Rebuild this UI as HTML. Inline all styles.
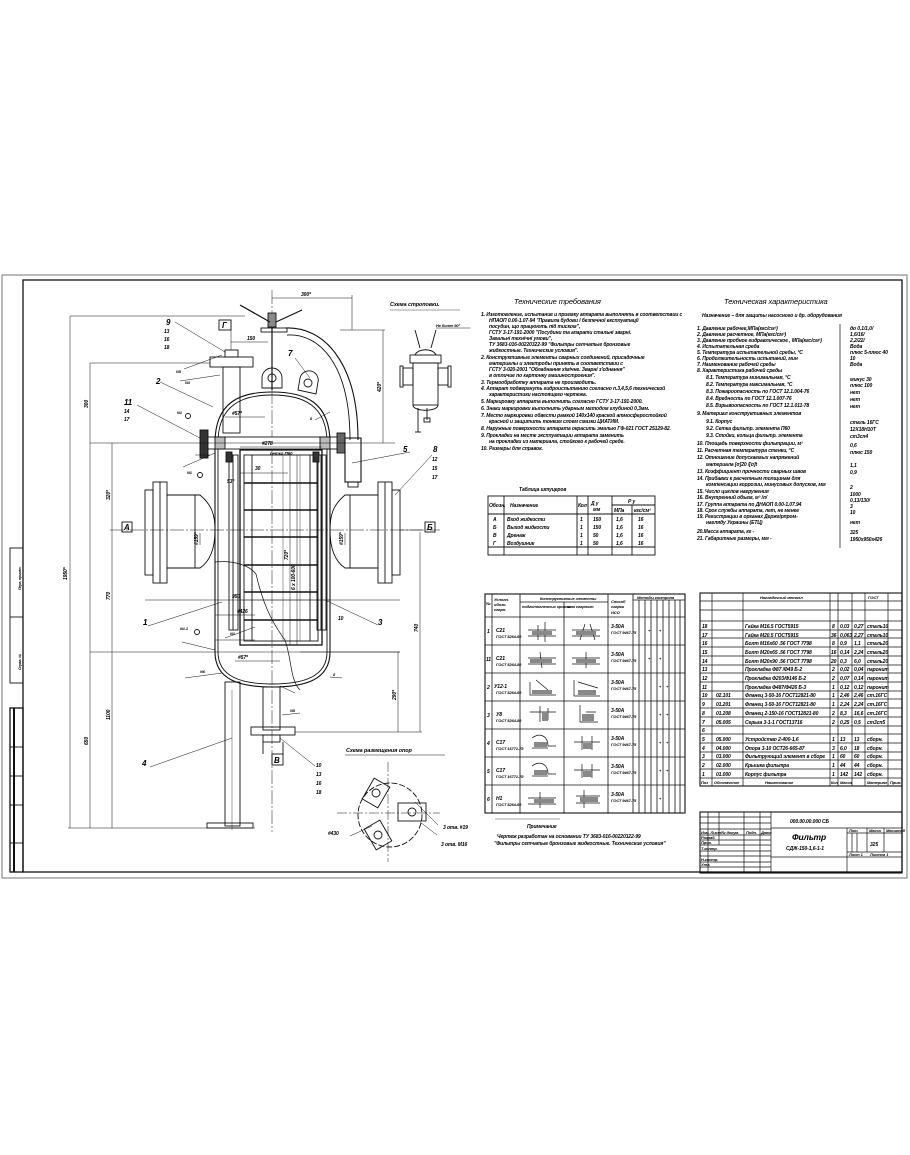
<!DOCTYPE html>
<html><head><meta charset="utf-8">
<style>
html,body{margin:0;padding:0;background:#fff;}
svg{display:block;}
text{font-family:"Liberation Sans",sans-serif;font-style:italic;fill:#000;font-weight:bold;letter-spacing:-0.1px;}
.t{font-size:5px;}
.s{font-size:4px;}
.h{font-size:7.5px;font-weight:normal;}
.n{font-size:8px;}
</style></head><body>
<svg width="910" height="1155" viewBox="0 0 910 1155" xmlns="http://www.w3.org/2000/svg">
<rect width="910" height="1155" fill="#fff"/>
<g fill="none" stroke="#111" stroke-width="0.9">
<rect x="2" y="275" width="905" height="603" stroke="#666"/>
<rect x="23" y="280" width="879" height="592" stroke-width="1.3"/>
<rect x="10" y="548" width="13" height="135"/>
<line x1="10" y1="617" x2="23" y2="617"/>
<rect x="10" y="708" width="13" height="164" stroke-width="1.3"/>
<line x1="14" y1="708" x2="14" y2="872" stroke-width="2"/>
<line x1="10" y1="747" x2="23" y2="747"/><line x1="10" y1="776" x2="23" y2="776"/>
<line x1="10" y1="805" x2="23" y2="805"/><line x1="10" y1="843" x2="23" y2="843"/>

<line x1="272" y1="290" x2="272" y2="832" stroke-dasharray="14 2 2 2" stroke-width="0.5"/>
<line x1="110" y1="530" x2="440" y2="530" stroke-dasharray="14 2 2 2" stroke-width="0.5"/>

<line x1="215" y1="443" x2="215" y2="652" stroke-width="1.1"/><line x1="218" y1="449" x2="218" y2="652"/>
<line x1="330" y1="443" x2="330" y2="652" stroke-width="1.1"/><line x1="327" y1="449" x2="327" y2="652"/>
<path d="M215,443 C215,402 240,392 272,392 C305,392 330,402 330,443" stroke-width="1.1"/>
<path d="M218,443 C218,405 242,395 272,395 C303,395 327,405 327,443"/>
<path d="M215,652 C215,680 240,687 272,687 C305,687 330,680 330,652" stroke-width="1.1"/>
<path d="M218,652 C218,677 242,684 272,684 C303,684 327,677 327,652"/>
<rect x="205" y="437" width="135" height="12" fill="#fff"/>
<rect x="215" y="437" width="10" height="12" fill="#bbb"/>
<rect x="320" y="437" width="10" height="12" fill="#bbb"/>
<rect x="200" y="430" width="8" height="28" fill="#333"/>
<rect x="337" y="433" width="8" height="20" fill="#666"/>
<line x1="90" y1="443" x2="395" y2="443" stroke-width="0.5"/>
<rect x="153" y="482" width="14" height="101"/><line x1="160" y1="482" x2="160" y2="583"/>
<rect x="145" y="490" width="8" height="85"/>
<path d="M167,495 L200,495 C212,505 215,515 215,530 C215,545 212,560 200,568 L167,568"/>
<line x1="195" y1="495" x2="195" y2="568"/>
<rect x="378" y="482" width="14" height="101"/><line x1="385" y1="482" x2="385" y2="583"/>
<rect x="392" y="490" width="8" height="85"/>
<path d="M378,495 L345,495 C333,505 330,515 330,530 C330,545 333,560 345,568 L378,568"/>
<line x1="350" y1="495" x2="350" y2="568"/>
<rect x="122" y="522" width="10" height="10"/><rect x="425" y="522" width="10" height="10"/>
<rect x="240" y="450" width="82" height="195" stroke-width="1.3"/>
<rect x="244" y="455" width="74" height="186"/>
<rect x="229" y="455" width="9" height="175"/>
<rect x="317" y="455" width="9" height="175"/>
<line x1="233" y1="455" x2="233" y2="630"/><line x1="321" y1="455" x2="321" y2="630"/>
<g stroke-width="1.4">
<line x1="244" y1="483" x2="318" y2="483"/><line x1="244" y1="510" x2="318" y2="510"/>
<line x1="244" y1="537" x2="318" y2="537"/><line x1="244" y1="565" x2="318" y2="565"/>
<line x1="244" y1="592" x2="318" y2="592"/><line x1="244" y1="620" x2="318" y2="620"/>
</g>
<line x1="252" y1="455" x2="252" y2="641"/><line x1="310" y1="455" x2="310" y2="641"/>
<line x1="283" y1="455" x2="283" y2="641" stroke-width="0.4"/><line x1="300" y1="455" x2="300" y2="641" stroke-width="0.4"/>
<rect x="226" y="452" width="6" height="10" fill="#333"/><rect x="313" y="452" width="6" height="10" fill="#333"/>
<path d="M215,562 C235,560 250,566 256,574 C262,600 270,620 285,640 C292,660 290,680 300,690" stroke-width="0.7"/>
<line x1="242" y1="600" x2="330" y2="600" stroke-width="0.4"/>
<line x1="145" y1="600" x2="400" y2="600" stroke-width="0.5"/>
<line x1="215" y1="615" x2="255" y2="615" stroke-width="0.5"/>
<line x1="90" y1="652" x2="400" y2="652" stroke-width="0.5"/>
<rect x="223" y="367" width="17" height="66"/>
<rect x="210" y="357" width="43" height="10"/>
<rect x="225" y="350" width="13" height="7"/>
<line x1="231" y1="320" x2="231" y2="350" stroke-width="0.5"/>
<rect x="219" y="320" width="12" height="10"/>
<line x1="231" y1="342" x2="268" y2="342" stroke-width="0.5"/>
<line x1="90" y1="363" x2="210" y2="363" stroke-width="0.5"/>
<line x1="272" y1="318" x2="272" y2="390" stroke-width="1.2"/>
<rect x="268" y="313" width="8" height="14" fill="#888"/>
<line x1="240" y1="305" x2="270" y2="322" stroke-width="1.2"/>
<line x1="276" y1="322" x2="302" y2="310" stroke-width="1.2"/>
<rect x="261" y="328" width="26" height="4"/>
<path d="M262,388 L262,378 A10,10 0 0 1 282,378 L282,388 Z"/><circle cx="272" cy="378" r="4"/>
<path d="M298,390 L300,378 A9,9 0 0 1 318,382 L316,394 Z"/><circle cx="308" cy="383" r="4"/>
<path d="M285,328 C322,326 358,360 358,440" stroke-width="1.1"/>
<path d="M287,335 C318,333 350,362 350,440"/>
<rect x="345" y="438" width="16" height="44" stroke-width="1.1"/>
<rect x="348" y="482" width="10" height="5"/>
<rect x="225" y="682" width="15" height="144"/><line x1="232" y1="690" x2="232" y2="830" stroke-width="0.4"/>
<rect x="207" y="823" width="46" height="5"/>
<rect x="263" y="687" width="17" height="43"/>
<rect x="251" y="727" width="44" height="8"/>
<rect x="263" y="735" width="17" height="7"/>
<rect x="272" y="754" width="11" height="11"/>
<line x1="263" y1="742" x2="263" y2="754"/><line x1="283" y1="742" x2="283" y2="754"/>

<g stroke-width="0.5">
<line x1="70" y1="316" x2="70" y2="828"/><line x1="70" y1="316" x2="245" y2="316"/>
<line x1="90" y1="363" x2="90" y2="828"/>
<line x1="112" y1="443" x2="112" y2="828"/>
<line x1="68" y1="828" x2="255" y2="828"/>
<line x1="272" y1="298" x2="352" y2="298"/><line x1="352" y1="295" x2="352" y2="330"/>
<line x1="340" y1="330" x2="385" y2="330"/><line x1="383" y1="330" x2="383" y2="443"/>
<line x1="300" y1="652" x2="400" y2="652"/><line x1="398" y1="652" x2="398" y2="732"/>
<line x1="295" y1="732" x2="422" y2="732"/><line x1="420" y1="532" x2="420" y2="732"/>
<line x1="400" y1="530" x2="422" y2="530"/>
<line x1="240" y1="447" x2="322" y2="447"/>
<line x1="240" y1="473" x2="288" y2="473"/>
<line x1="200" y1="533" x2="200" y2="545"/><line x1="345" y1="533" x2="345" y2="545"/>
<line x1="290" y1="455" x2="290" y2="645"/><line x1="297" y1="455" x2="297" y2="645"/>
<line x1="225" y1="417" x2="265" y2="417"/><line x1="235" y1="661" x2="280" y2="661"/>
<line x1="215" y1="640" x2="255" y2="640"/>
</g>
<g stroke-width="0.5">
<line x1="175" y1="322" x2="225" y2="352"/><line x1="160" y1="382" x2="213" y2="407"/>
<line x1="137" y1="405" x2="200" y2="438"/><line x1="295" y1="358" x2="310" y2="378"/>
<line x1="352" y1="463" x2="410" y2="452"/><line x1="395" y1="495" x2="432" y2="455"/>
<line x1="148" y1="626" x2="222" y2="602"/><line x1="325" y1="600" x2="378" y2="625"/>
<line x1="150" y1="767" x2="232" y2="738"/><line x1="280" y1="738" x2="315" y2="766"/>
<line x1="315" y1="420" x2="330" y2="412"/><line x1="330" y1="677" x2="342" y2="678"/>
<line x1="184" y1="369" x2="222" y2="355"/><line x1="180" y1="381" x2="220" y2="375"/>
<line x1="183" y1="467" x2="215" y2="453"/><line x1="195" y1="455" x2="210" y2="455"/>
<line x1="182" y1="642" x2="215" y2="650"/><line x1="185" y1="678" x2="222" y2="673"/>
<line x1="225" y1="638" x2="255" y2="627"/><line x1="282" y1="715" x2="300" y2="713"/>
<line x1="280" y1="686" x2="295" y2="693"/>
</g>
<g fill="#fff"><circle cx="188" cy="416" r="2.5"/><circle cx="200" cy="475" r="2.5"/><circle cx="197" cy="632" r="2.5"/></g>

<rect x="413" y="363" width="25" height="42"/>
<path d="M413,405 C413,412 438,412 438,405"/>
<rect x="410" y="355" width="31" height="8"/>
<path d="M415,355 C418,348 433,348 436,355"/>
<line x1="420" y1="348" x2="415" y2="330"/><line x1="431" y1="348" x2="436" y2="330"/>
<rect x="403" y="368" width="10" height="17"/><rect x="400" y="366" width="3" height="21"/>
<rect x="438" y="368" width="10" height="17"/><rect x="448" y="366" width="3" height="21"/>
<line x1="418" y1="408" x2="418" y2="432"/><line x1="415" y1="432" x2="421" y2="432"/>
<line x1="427" y1="408" x2="427" y2="420"/><rect x="424" y="418" width="6" height="4"/>
<line x1="436" y1="328" x2="470" y2="328" stroke-width="0.5"/>
<line x1="390" y1="310" x2="460" y2="310" stroke-width="0.4"/>
<line x1="345" y1="755" x2="445" y2="755" stroke-width="0.5"/>
<circle cx="390" cy="815" r="32" stroke-dasharray="6 2"/>
<line x1="337" y1="813" x2="440" y2="813" stroke-dasharray="10 2 2 2" stroke-width="0.5"/>
<line x1="388" y1="762" x2="388" y2="862" stroke-dasharray="10 2 2 2" stroke-width="0.5"/>
<rect x="-9" y="-12" width="18" height="24" transform="translate(376,793) rotate(30)"/>
<circle cx="376" cy="793" r="4"/>
<rect x="-14" y="-9" width="28" height="18" transform="translate(412,812)"/>
<circle cx="412" cy="812" r="4"/>
<rect x="-9" y="-12" width="18" height="24" transform="translate(378,835) rotate(-30)"/>
<circle cx="378" cy="835" r="4"/>
<line x1="350" y1="836" x2="372" y2="826" stroke-width="0.5"/>
<line x1="420" y1="822" x2="437" y2="835" stroke-width="0.5"/>
<line x1="415" y1="802" x2="438" y2="825" stroke-width="0.5"/>

<rect x="488" y="496" width="167" height="59"/>
<line x1="504" y1="496" x2="504" y2="555"/><line x1="577" y1="496" x2="577" y2="555"/>
<line x1="588" y1="496" x2="588" y2="555"/><line x1="612" y1="496" x2="612" y2="555"/>
<line x1="632" y1="505" x2="632" y2="555"/><line x1="612" y1="505" x2="655" y2="505"/>
<line x1="488" y1="514" x2="655" y2="514"/><line x1="488" y1="547" x2="655" y2="547"/>

<rect x="485" y="594" width="200" height="219" stroke-width="1.1"/>
<g stroke-width="0.8">
<line x1="492" y1="594" x2="492" y2="813"/><line x1="520" y1="594" x2="520" y2="813"/>
<line x1="564" y1="602" x2="564" y2="813"/><line x1="608" y1="594" x2="608" y2="813"/>
<line x1="633" y1="594" x2="633" y2="813"/>
<line x1="639" y1="600" x2="639" y2="813"/><line x1="645" y1="600" x2="645" y2="813"/>
<line x1="651" y1="600" x2="651" y2="813"/><line x1="657" y1="600" x2="657" y2="813"/>
<line x1="663" y1="600" x2="663" y2="813"/><line x1="669" y1="600" x2="669" y2="813"/>
<line x1="675" y1="600" x2="675" y2="813"/><line x1="680" y1="600" x2="680" y2="813"/>
<line x1="520" y1="602" x2="608" y2="602"/><line x1="633" y1="600" x2="685" y2="600"/>
<line x1="485" y1="617" x2="685" y2="617"/><line x1="485" y1="645" x2="685" y2="645"/>
<line x1="485" y1="673" x2="685" y2="673"/><line x1="485" y1="701" x2="685" y2="701"/>
<line x1="485" y1="729" x2="685" y2="729"/><line x1="485" y1="757" x2="685" y2="757"/>
<line x1="485" y1="785" x2="685" y2="785"/>
</g>
<g stroke-width="0.7">
<path d="M528,630 L556,630 M528,636 L556,636 M538,625 L538,640 M545,622 L545,642"/>
<path d="M572,630 L600,630 M572,636 L600,636 M585,624 L580,640 M590,624 L595,640"/>
<path d="M528,658 L556,658 M528,664 L556,664 M540,652 L542,668"/>
<path d="M572,658 L600,658 M572,664 L600,664 M586,652 L586,668"/>
<path d="M530,682 L530,695 L556,695 M536,680 L548,690"/><path d="M574,680 L574,696 L600,696 M578,682 L598,688"/>
<path d="M530,712 L556,712 M540,706 L540,722 M548,708 L548,720"/><path d="M580,705 L580,722 L598,722 M586,712 L596,712"/>
<path d="M532,738 C540,732 548,736 548,746 L556,746 M532,748 L548,748"/><path d="M574,742 L600,742 M582,736 L582,750 M592,736 L592,750"/>
<path d="M532,766 C540,760 548,764 548,774 L556,774 M532,776 L548,776"/><path d="M574,770 L600,770 M582,764 L582,778 M592,764 L592,778"/>
<path d="M528,798 L556,798 M528,804 L556,804 M540,792 L540,808"/><path d="M576,796 L600,796 M576,803 L600,803 M584,790 L584,808"/>
</g>
<g fill="#888" stroke="none">
<rect x="532" y="631" width="20" height="4"/><rect x="576" y="631" width="20" height="4"/>
<rect x="530" y="659" width="22" height="4"/><rect x="576" y="659" width="20" height="4"/>
<rect x="532" y="690" width="20" height="4"/><rect x="578" y="690" width="18" height="5"/>
<rect x="542" y="712" width="6" height="9"/><rect x="582" y="714" width="12" height="7"/>
<rect x="534" y="742" width="13" height="5"/><rect x="583" y="743" width="9" height="6"/>
<rect x="534" y="770" width="13" height="5"/><rect x="583" y="771" width="9" height="6"/>
<rect x="534" y="799" width="20" height="4"/><rect x="580" y="797" width="18" height="5"/>
</g>

<rect x="700" y="593" width="202" height="193" stroke-width="1.1"/>
<g stroke-width="0.7">
<line x1="712" y1="593" x2="712" y2="786"/><line x1="743" y1="593" x2="743" y2="786"/>
<line x1="830" y1="593" x2="830" y2="786"/><line x1="838" y1="593" x2="838" y2="786"/>
<line x1="852" y1="593" x2="852" y2="786"/><line x1="865" y1="593" x2="865" y2="786"/>
<line x1="888" y1="593" x2="888" y2="786"/>
<line x1="700" y1="601" x2="902" y2="601"/><line x1="700" y1="610" x2="902" y2="610"/>
<line x1="700" y1="621" x2="902" y2="621"/>
<line x1="700" y1="630" x2="902" y2="630"/><line x1="700" y1="638" x2="902" y2="638"/>
<line x1="700" y1="647" x2="902" y2="647"/><line x1="700" y1="656" x2="902" y2="656"/>
<line x1="700" y1="665" x2="902" y2="665"/><line x1="700" y1="673" x2="902" y2="673"/>
<line x1="700" y1="682" x2="902" y2="682"/><line x1="700" y1="691" x2="902" y2="691"/>
<line x1="700" y1="699" x2="902" y2="699"/><line x1="700" y1="708" x2="902" y2="708"/>
<line x1="700" y1="717" x2="902" y2="717"/><line x1="700" y1="726" x2="902" y2="726"/>
<line x1="700" y1="734" x2="902" y2="734"/><line x1="700" y1="743" x2="902" y2="743"/>
<line x1="700" y1="752" x2="902" y2="752"/><line x1="700" y1="760" x2="902" y2="760"/>
<line x1="700" y1="769" x2="902" y2="769"/><line x1="700" y1="778" x2="902" y2="778"/>
</g>

<rect x="700" y="812" width="202" height="61" stroke-width="1.1"/>
<g stroke-width="0.7">
<line x1="708" y1="812" x2="708" y2="873"/><line x1="719" y1="812" x2="719" y2="845"/>
<line x1="744" y1="812" x2="744" y2="873"/><line x1="760" y1="812" x2="760" y2="873"/>
<line x1="771" y1="812" x2="771" y2="873"/>
<line x1="771" y1="828" x2="902" y2="828"/><line x1="771" y1="857" x2="902" y2="857"/>
<line x1="847" y1="828" x2="847" y2="873"/>
<line x1="857" y1="833" x2="857" y2="852"/><line x1="852" y1="833" x2="852" y2="852"/>
<line x1="867" y1="828" x2="867" y2="852"/><line x1="884" y1="828" x2="884" y2="852"/>
<line x1="847" y1="833" x2="902" y2="833"/><line x1="847" y1="852" x2="902" y2="852"/>
<line x1="700" y1="817" x2="771" y2="817"/><line x1="700" y1="823" x2="771" y2="823"/>
<line x1="700" y1="829" x2="771" y2="829"/><line x1="700" y1="835" x2="771" y2="835"/>
<line x1="700" y1="840" x2="771" y2="840"/><line x1="700" y1="845" x2="771" y2="845"/>
<line x1="700" y1="851" x2="771" y2="851"/><line x1="700" y1="856" x2="771" y2="856"/>
<line x1="700" y1="862" x2="771" y2="862"/><line x1="700" y1="867" x2="771" y2="867"/>
</g>
<line x1="840" y1="324" x2="840" y2="548" stroke-width="0.7"/>
<line x1="495" y1="819" x2="560" y2="819" stroke-width="0.4"/>
</g>

<g class="n">
<text x="166" y="325">9</text><text x="156" y="384">2</text><text x="124" y="405">11</text>
<text x="288" y="356">7</text><text x="403" y="452">5</text><text x="433" y="452">8</text>
<text x="143" y="625">1</text><text x="378" y="625">3</text><text x="142" y="766">4</text>
</g>
<g class="t" font-size="6">
<text x="164" y="333">13</text><text x="164" y="341">16</text><text x="164" y="349">18</text>
<text x="124" y="413">14</text><text x="124" y="421">17</text>
<text x="432" y="461">12</text><text x="432" y="470">15</text><text x="432" y="479">17</text>
<text x="316" y="767">10</text><text x="316" y="776">13</text><text x="316" y="785">16</text><text x="316" y="794">18</text>
<text x="124" y="530" font-size="8">А</text><text x="427" y="530" font-size="8">Б</text>
<text x="222" y="328" font-size="8">Г</text><text x="274" y="763" font-size="8">В</text>
<text x="301" y="296">300*</text><text x="247" y="340">150</text>
<text x="232" y="415">#57*</text><text x="238" y="659">#57*</text>
<text x="262" y="445">#278</text><text x="270" y="455" font-size="4.5">сетка П60</text>
<text x="255" y="470">30</text><text x="227" y="483">53°</text>
<text x="232" y="598">950</text><text x="237" y="613">#426</text>
<text x="185" y="384" font-size="4">N3</text><text x="176" y="373" font-size="4">N5</text>
<text x="177" y="414" font-size="4">N1</text><text x="187" y="474" font-size="4">N1</text>
<text x="180" y="630" font-size="4">N1.1</text><text x="230" y="635" font-size="4">N1</text>
<text x="200" y="673" font-size="4">N6</text><text x="290" y="712" font-size="4">N5</text>
<text x="333" y="676" font-size="4">8</text><text x="310" y="420" font-size="4">8</text>
<text x="338" y="620">10</text>
<text x="443" y="829">3 отв. #19</text><text x="441" y="846">3 отв. М16</text>
<text x="328" y="835">#430</text>
<text x="390" y="306" font-size="5.5">Схема строповки.</text>
<text x="436" y="327" font-size="4">Не более  90°</text>
<text x="346" y="752" font-size="5.5">Схема размещения опор</text>
</g>
<g class="t">
<text transform="translate(67,580) rotate(-90)">1950*</text>
<text transform="translate(88,408) rotate(-90)">300</text>
<text transform="translate(88,745) rotate(-90)">650</text>
<text transform="translate(110,500) rotate(-90)">320*</text>
<text transform="translate(110,600) rotate(-90)">770</text>
<text transform="translate(110,720) rotate(-90)">1100</text>
<text transform="translate(381,392) rotate(-90)">420*</text>
<text transform="translate(396,700) rotate(-90)">290*</text>
<text transform="translate(418,632) rotate(-90)">740</text>
<text transform="translate(198,545) rotate(-90)">#159*</text>
<text transform="translate(343,545) rotate(-90)">#159*</text>
<text transform="translate(288,560) rotate(-90)">720*</text>
<text transform="translate(295,590) rotate(-90)">6 x 100-600</text>
<text transform="translate(21,590) rotate(-90)" font-size="3.5">Перв. примен.</text>
<text transform="translate(21,670) rotate(-90)" font-size="3.5">Справ. №</text>
</g>

<text x="514" y="304" class="h">Технические требования</text>
<g class="t">
<text x="481" y="316">1. Изготовление, испытание и приемку аппарата выполнять в соответствии с</text>
<text x="489" y="322">НПАОП 0.00-1.07-94 "Правила будови і безпечної експлуатації</text>
<text x="489" y="328">посудин, що працюють під тиском",</text>
<text x="489" y="334">ГСТУ 3-17-191-2000 "Посудини та апарати стальні зварні.</text>
<text x="489" y="340">Загальні технічні умови",</text>
<text x="489" y="346">ТУ 3683-016-00220322-99 "Фильтры сетчатые бронзовые</text>
<text x="489" y="352">жидкостные. Технические условия".</text>
<text x="481" y="359">2. Конструктивные элементы сварных соединений, присадочные</text>
<text x="489" y="365">материалы и электроды принять в соответствии с</text>
<text x="489" y="371">ГСТУ 3-020-2001 "Обладнання хімічне. Зварні з'єднання"</text>
<text x="489" y="377">в отличие по картонку машиностроения".</text>
<text x="481" y="384">3. Термообработку аппарата не производить.</text>
<text x="481" y="390">4. Аппарат подвергнуть гидроиспытанию согласно п.3,4,5,6 технической</text>
<text x="489" y="396">характеристики настоящего чертежа.</text>
<text x="481" y="403">5. Маркировку аппарата выполнить согласно ГСТУ 3-17-191-2000.</text>
<text x="481" y="410">6. Знаки маркировки выполнить ударным методом глубиной 0,3мм.</text>
<text x="481" y="417">7. Место маркировки обвести рамкой 140х140 краской атмосферостойкой</text>
<text x="489" y="423">красной и защитить тонким слоем смазки ЦИАТИМ.</text>
<text x="481" y="430">8. Наружные поверхности аппарата окрасить эмалью ГФ-021 ГОСТ 25129-82.</text>
<text x="481" y="437">9. Прокладки на месте эксплуатации аппарата заменить</text>
<text x="489" y="443">на прокладки из материала, стойкого к рабочей среде.</text>
<text x="481" y="450">10. Размеры для справок.</text>
</g>
<text x="519" y="491" class="t" font-size="6">Таблица штуцеров</text>
<g class="t">
<text x="489" y="507">Обозн.</text><text x="510" y="507">Назначение</text><text x="578" y="507">Кол</text>
<text x="591" y="505">Д у</text><text x="593" y="511">мм</text><text x="628" y="503">Р у</text>
<text x="614" y="512">МПа</text><text x="634" y="512">кгс/см²</text>
<text x="493" y="521">А</text><text x="507" y="521">Вход жидкости</text><text x="580" y="521">1</text><text x="593" y="521">150</text><text x="616" y="521">1,6</text><text x="638" y="521">16</text>
<text x="493" y="529">Б</text><text x="507" y="529">Выход жидкости</text><text x="580" y="529">1</text><text x="593" y="529">150</text><text x="616" y="529">1,6</text><text x="638" y="529">16</text>
<text x="493" y="537">В</text><text x="507" y="537">Дренаж</text><text x="580" y="537">1</text><text x="593" y="537">50</text><text x="616" y="537">1,6</text><text x="638" y="537">16</text>
<text x="493" y="545">Г</text><text x="507" y="545">Воздушник</text><text x="580" y="545">1</text><text x="593" y="545">50</text><text x="616" y="545">1,6</text><text x="638" y="545">16</text>
</g>

<text x="724" y="304" class="h">Техническая характеристика</text>
<g class="t">
<text x="702" y="317">Назначение – для защиты насосного и др. оборудования</text>
<text x="697" y="330">1. Давление рабочее,МПа(кгс/см²)</text><text x="850" y="330">до 0,1/1,0/</text>
<text x="697" y="336">2. Давление расчетное, МПа(кгс/см²)</text><text x="850" y="336">1,6/16/</text>
<text x="697" y="342">3. Давление пробное гидравлическое , МПа(кгс/см²)</text><text x="850" y="342">2,2/22/</text>
<text x="697" y="348">4. Испытательная среда</text><text x="850" y="348">Вода</text>
<text x="697" y="354">5. Температура испытательной среды, °С</text><text x="850" y="354">плюс 5-плюс 40</text>
<text x="697" y="360">6. Продолжительность испытаний, мин</text><text x="850" y="360">10</text>
<text x="697" y="366">7. Наименование рабочей среды</text><text x="850" y="366">Вода</text>
<text x="697" y="372">8. Характеристика рабочей среды</text>
<text x="706" y="379">8.1. Температура минимальная, °С</text><text x="850" y="381">минус 30</text>
<text x="706" y="386">8.2. Температура максимальная, °С</text><text x="850" y="387">плюс 100</text>
<text x="706" y="393">8.3. Пожароопасность по ГОСТ 12.1.004-76</text><text x="850" y="394">нет</text>
<text x="706" y="400">8.4. Вредность           по ГОСТ 12.1.007-76</text><text x="850" y="401">нет</text>
<text x="706" y="407">8.5. Взрывоопасность по ГОСТ 12.1.011-78</text><text x="850" y="408">нет</text>
<text x="697" y="415">9. Материал конструктивных элементов</text>
<text x="706" y="423">9.1. Корпус</text><text x="850" y="424">сталь 16ГС</text>
<text x="706" y="430">9.2. Сетка фильтр. элемента П60</text><text x="850" y="431">12Х18Н10Т</text>
<text x="706" y="437">9.3. Стойки, кольца фильтр. элемента</text><text x="850" y="438">ст3сп4</text>
<text x="697" y="445">10. Площадь поверхности фильтрации, м²</text><text x="850" y="447">0,6</text>
<text x="697" y="452">11. Расчетная температура стенки, °С</text><text x="850" y="454">плюс 150</text>
<text x="697" y="459">12. Отношение допускаемых напряжений</text>
<text x="706" y="466">материала          [σ]20 /[σ]t</text><text x="850" y="467">1,1</text>
<text x="697" y="473">13. Коэффициент прочности сварных швов</text><text x="850" y="474">0,9</text>
<text x="697" y="480">14. Прибавки к расчетным толщинам для</text>
<text x="706" y="486">компенсации коррозии, минусовых допусков, мм</text><text x="850" y="489">2</text>
<text x="697" y="493">15. Число циклов нагружения</text><text x="850" y="496">1000</text>
<text x="697" y="499">16. Внутренний объем, м³ /л/</text><text x="850" y="502">0,13/130/</text>
<text x="697" y="506">17. Группа аппарата по ДНАОП 0.00-1.07.94</text><text x="850" y="508">3</text>
<text x="697" y="512">18. Срок службы аппарата, лет, не менее</text><text x="850" y="514">10</text>
<text x="697" y="518">19. Регистрации в органах Держгірпром-</text>
<text x="706" y="524">нагляду Украины (ЕТЦ)</text><text x="850" y="524">нет</text>
<text x="697" y="533">20.Масса аппарата, кг -</text><text x="850" y="534">325</text>
<text x="697" y="540">21. Габаритные размеры, мм -</text><text x="850" y="541">1950х950х426</text>
</g>

<g class="s">
<text x="486" y="605">№</text><text x="494" y="601">Условн.</text><text x="494" y="606">обозн.</text><text x="494" y="611">сварн.</text>
<text x="540" y="600">Конструктивные элементы</text>
<text x="522" y="608">подготовленных кромок</text><text x="567" y="608">шва сварного</text>
<text x="611" y="603">Способ</text><text x="611" y="608">сварки</text><text x="611" y="614">ИСО</text>
<text x="637" y="599">Методы контроля</text>
</g>
<g class="t" font-size="6.5">
<text x="487" y="633">1</text><text x="496" y="632">С21</text>
<text x="486" y="661">11</text><text x="496" y="660">С21</text>
<text x="487" y="689">2</text><text x="494" y="688">У12-1</text>
<text x="487" y="717">3</text><text x="496" y="716">У8</text>
<text x="487" y="745">4</text><text x="496" y="744">С17</text>
<text x="487" y="773">5</text><text x="496" y="772">С17</text>
<text x="487" y="801">6</text><text x="496" y="800">Н1</text>
</g>
<g class="t">
<text x="611" y="628">3-50А</text><text x="611" y="656">3-50А</text><text x="611" y="684">3-50А</text>
<text x="611" y="712">3-50А</text><text x="611" y="740">3-50А</text><text x="611" y="768">3-50А</text><text x="611" y="796">3-50А</text>
</g>
<g class="s">
<text x="496" y="638">ГОСТ 5264-80</text><text x="496" y="666">ГОСТ 5264-80</text><text x="496" y="694">ГОСТ 5264-80</text>
<text x="496" y="722">ГОСТ 5264-80</text><text x="496" y="750">ГОСТ 16771-78</text><text x="496" y="778">ГОСТ 16771-78</text><text x="496" y="806">ГОСТ 5264-80</text>
<text x="611" y="634">ГОСТ 9467-75</text><text x="611" y="662">ГОСТ 9467-75</text><text x="611" y="690">ГОСТ 9467-75</text>
<text x="611" y="718">ГОСТ 9467-75</text><text x="611" y="746">ГОСТ 9467-75</text><text x="611" y="774">ГОСТ 9467-75</text><text x="611" y="802">ГОСТ 9467-75</text>
<text x="648" y="632">+</text><text x="659" y="632">+</text><text x="648" y="660">+</text><text x="659" y="660">+</text>
<text x="659" y="688">+</text><text x="666" y="688">+</text><text x="659" y="716">+</text><text x="666" y="716">+</text>
<text x="659" y="744">+</text><text x="666" y="744">+</text><text x="659" y="772">+</text><text x="666" y="772">+</text><text x="659" y="800">+</text>
</g>
<text x="527" y="828" class="t" font-size="6">Примечание</text>
<text x="497" y="838" class="t">Чертеж разработан на основании ТУ 3683-016-00220322-99</text>
<text x="494" y="845" class="t">"Фильтры сетчатые бронзовые жидкостные. Технические условия"</text>

<g class="s">
<text x="760" y="599">Нагладочный металл</text><text x="868" y="599">ГОСТ</text>
<g font-size="5">
<text x="702" y="628">18</text><text x="745" y="628">Гайка М16.5   ГОСТ5915</text><text x="832" y="628">8</text><text x="840" y="628">0,03</text><text x="854" y="628">0,27</text><text x="867" y="628">сталь10</text>
<text x="702" y="637">17</text><text x="745" y="637">Гайка М20.5   ГОСТ5915</text><text x="831" y="637">36</text><text x="840" y="637">0,063</text><text x="854" y="637">2,27</text><text x="867" y="637">сталь10</text>
<text x="702" y="645">16</text><text x="745" y="645">Болт М16х60 .56  ГОСТ 7798</text><text x="832" y="645">8</text><text x="840" y="645">0,9</text><text x="854" y="645">1,1</text><text x="867" y="645">сталь20</text>
<text x="702" y="654">15</text><text x="745" y="654">Болт М20х65 .56  ГОСТ 7798</text><text x="831" y="654">16</text><text x="840" y="654">0,14</text><text x="854" y="654">2,24</text><text x="867" y="654">сталь20</text>
<text x="702" y="663">14</text><text x="745" y="663">Болт М20х90 .56  ГОСТ 7798</text><text x="831" y="663">20</text><text x="840" y="663">0,3</text><text x="854" y="663">6,0</text><text x="867" y="663">сталь20</text>
<text x="702" y="671">13</text><text x="745" y="671">Прокладка Ф87 /Ф49   Б-2</text><text x="832" y="671">2</text><text x="840" y="671">0,02</text><text x="854" y="671">0,04</text><text x="867" y="671">паронит</text>
<text x="702" y="680">12</text><text x="745" y="680">Прокладка Ф203/Ф146  Б-2</text><text x="832" y="680">2</text><text x="840" y="680">0,07</text><text x="854" y="680">0,14</text><text x="867" y="680">паронит</text>
<text x="702" y="689">11</text><text x="745" y="689">Прокладка Ф487/Ф426  Б-3</text><text x="832" y="689">1</text><text x="840" y="689">0,12</text><text x="854" y="689">0,12</text><text x="867" y="689">паронит</text>
<text x="702" y="697">10</text><text x="716" y="697">02.101</text><text x="745" y="697">Фланец 3-50-16  ГОСТ12821-80</text><text x="832" y="697">1</text><text x="840" y="697">2,46</text><text x="854" y="697">2,46</text><text x="867" y="697">ст.16ГС</text>
<text x="702" y="706">9</text><text x="716" y="706">01.201</text><text x="745" y="706">Фланец 3-50-16  ГОСТ12821-80</text><text x="832" y="706">1</text><text x="840" y="706">2,24</text><text x="854" y="706">2,24</text><text x="867" y="706">ст.16ГС</text>
<text x="702" y="715">8</text><text x="716" y="715">01.208</text><text x="745" y="715">Фланец 2-150-16 ГОСТ12821-80</text><text x="832" y="715">2</text><text x="840" y="715">8,3</text><text x="854" y="715">16,6</text><text x="867" y="715">ст.16ГС</text>
<text x="702" y="724">7</text><text x="716" y="724">05.005</text><text x="745" y="724">Серьга 3-1-1  ГОСТ13716</text><text x="832" y="724">2</text><text x="840" y="724">0,25</text><text x="854" y="724">0,5</text><text x="867" y="724">ст3сп5</text>
<text x="702" y="732">6</text>
<text x="702" y="741">5</text><text x="716" y="741">05.000</text><text x="745" y="741">Устройство 2-400-1,6</text><text x="832" y="741">1</text><text x="840" y="741">13</text><text x="854" y="741">13</text><text x="867" y="741">сборн.</text>
<text x="702" y="750">4</text><text x="716" y="750">04.000</text><text x="745" y="750">Опора 3-10  ОСТ26-665-87</text><text x="832" y="750">3</text><text x="840" y="750">6,0</text><text x="854" y="750">18</text><text x="867" y="750">сборн.</text>
<text x="702" y="758">3</text><text x="716" y="758">03.000</text><text x="745" y="758">Фильтрующий элемент в сборе</text><text x="832" y="758">1</text><text x="840" y="758">60</text><text x="854" y="758">60</text><text x="867" y="758">сборн.</text>
<text x="702" y="767">2</text><text x="716" y="767">02.000</text><text x="745" y="767">Крышка фильтра</text><text x="832" y="767">1</text><text x="840" y="767">44</text><text x="854" y="767">44</text><text x="867" y="767">сборн.</text>
<text x="702" y="776">1</text><text x="716" y="776">01.000</text><text x="745" y="776">Корпус фильтра</text><text x="832" y="776">1</text><text x="840" y="776">142</text><text x="854" y="776">142</text><text x="867" y="776">сборн.</text>
</g>
<text x="701" y="784">Поз</text><text x="714" y="784">Обозначение</text><text x="765" y="784">Наименование</text>
<text x="831" y="784">Кол</text><text x="840" y="784">Масса</text><text x="867" y="784">Материал</text><text x="890" y="784">Прим.</text>
</g>
<text x="790" y="823" class="t" font-size="7.5" font-weight="normal">000.00.00.000 СБ</text>
<text x="792" y="840" font-size="8.5" font-weight="normal">Фильтр</text>
<text x="786" y="850" class="t" font-size="6" font-weight="normal">СДЖ-150-1,6-1-1</text>
<g class="s">
<text x="849" y="832">Лит.</text><text x="869" y="832">Масса</text><text x="886" y="832">Масштаб</text>
<text x="849" y="856">Лист 1</text><text x="870" y="856">Листов 1</text>
<text x="701" y="834">Изм. Лист</text><text x="721" y="834">№ докум.</text><text x="746" y="834">Подп.</text><text x="761" y="834">Дата</text>
<text x="701" y="839">Разраб.</text><text x="701" y="844">Пров.</text><text x="701" y="850">Т.контр.</text>
<text x="701" y="861">Н.контр.</text><text x="701" y="866">Утв.</text>
</g>
<text x="870" y="846" class="t" font-size="8" font-weight="normal">325</text>
</svg>
</body></html>
